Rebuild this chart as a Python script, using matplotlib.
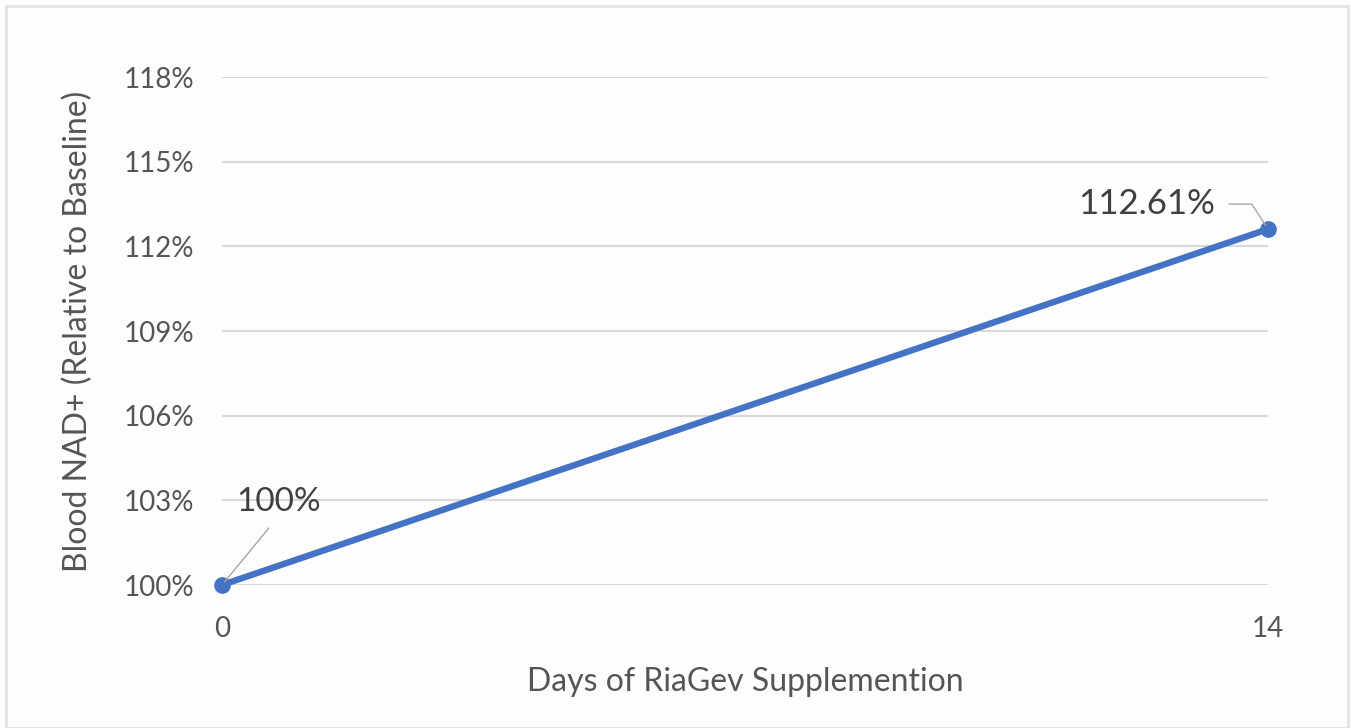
import matplotlib
matplotlib.use('Agg')
import matplotlib.pyplot as plt
from matplotlib.patches import Rectangle
from matplotlib.ticker import FuncFormatter

days = [0, 14]
nad_pct = [100.0, 112.61]
point_labels = ['100%', '112.61%']
y_ticks = [100, 103, 106, 109, 112, 115, 118]

plt.rcParams['font.family'] = ['Lato', 'DejaVu Sans']

text_grey = '#555555'
grid_grey = '#d9d9d9'
line_blue = '#4472c4'

fig = plt.figure(figsize=(13.51, 7.28), dpi=100)
fig.patch.set_facecolor('#fdfdfd')
# thin chart-area border
fig.add_artist(Rectangle((6 / 1351, 0), 1342 / 1351, 1 - 6 / 728, transform=fig.transFigure,
                         fill=False, edgecolor='#e3e3e3', linewidth=2))

ax = fig.add_axes([222 / 1351, 1 - 585 / 728, 1046 / 1351, 508 / 728])
ax.set_facecolor('none')

ax.plot(days, nad_pct, color=line_blue, linewidth=4.6, marker='o', markersize=11,
        solid_capstyle='round', clip_on=False, zorder=3)

ax.set_xlim(0, 14)
ax.set_ylim(100, 118)
ax.set_xticks(days)
ax.set_yticks(y_ticks)
ax.yaxis.set_major_formatter(FuncFormatter(lambda v, pos: '%d%%' % v))
ax.grid(axis='y', color=grid_grey, linewidth=1.5)
ax.set_axisbelow(True)
for side in ax.spines:
    ax.spines[side].set_visible(False)
ax.tick_params(axis='both', length=0, labelsize=20, colors=text_grey)
ax.tick_params(axis='y', pad=20)
ax.tick_params(axis='x', pad=22)

ax.set_xlabel('Days of RiaGev Supplemention', fontsize=23, color=text_grey, labelpad=18)
ax.set_ylabel('Blood NAD+ (Relative to Baseline)', fontsize=23, color=text_grey, labelpad=22)

# data labels with leader lines
ax.annotate(point_labels[0], xy=(days[0], nad_pct[0]), xytext=(10, 60), textcoords='offset points',
            ha='left', va='center', fontsize=24, color='#404040',
            arrowprops=dict(arrowstyle='-', color='#a6a6a6', lw=1, relpos=(0.5, 0),
                            shrinkA=8, shrinkB=3))
ax.annotate(point_labels[1], xy=(days[1], nad_pct[1]), xytext=(-38, 18), textcoords='offset points',
            ha='right', va='center', fontsize=25, color='#404040',
            arrowprops=dict(arrowstyle='-', color='#a6a6a6', lw=1, relpos=(1, 0.5),
                            shrinkA=8, shrinkB=3,
                            connectionstyle='angle,angleA=0,angleB=-57,rad=0'))

fig.savefig('out.png', dpi=100, facecolor=fig.get_facecolor())
